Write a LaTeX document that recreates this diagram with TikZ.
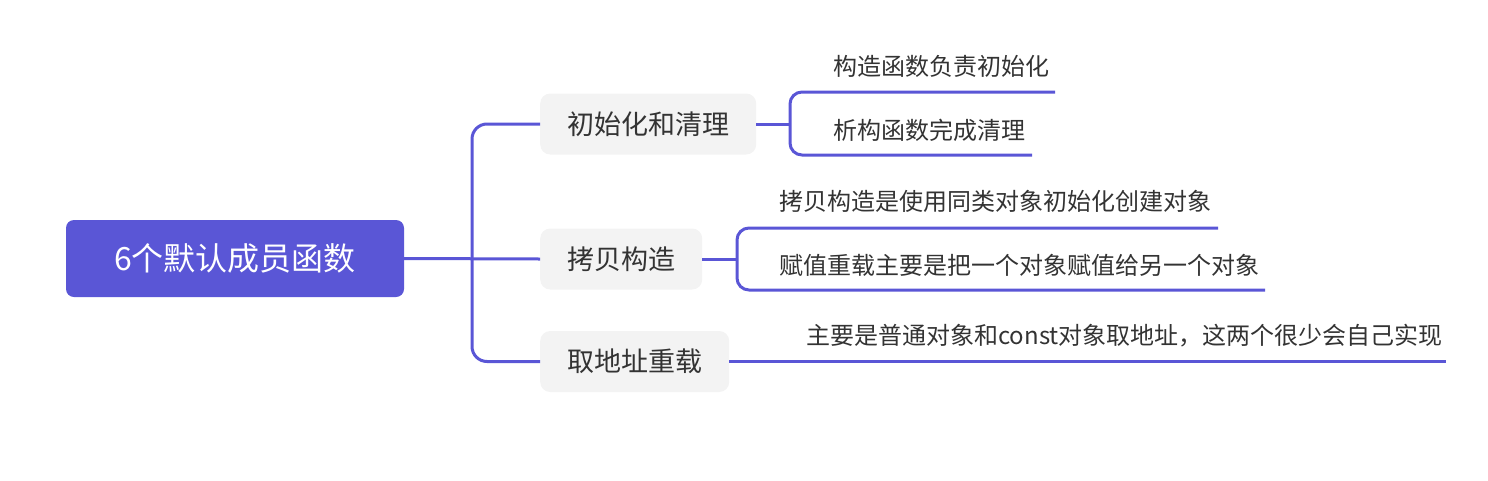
\documentclass[tikz,border=0pt]{standalone}
\usepackage{fontspec}
\setmainfont{Noto Sans CJK SC}
\usetikzlibrary{positioning}
\definecolor{mainblue}{HTML}{5A56D6}
\definecolor{boxgray}{HTML}{F3F3F3}
\definecolor{txt}{HTML}{333333}
\tikzset{root/.style = {fill=mainblue, text=white, rounded corners=8pt,
                        minimum width=338pt, minimum height=77pt,
                        font=\fontsize{32}{38}\selectfont},
         branch/.style = {fill=boxgray, text=txt, rounded corners=10pt,
                          inner xsep=27pt, minimum height=61pt, anchor=west,
                          font=\fontsize{27}{32}\selectfont},
         leaf/.style = {text=txt, inner sep=0pt, anchor=west,
                        font=\fontsize{24}{28}\selectfont},
         link/.style = {draw=mainblue, line width=3pt}}

\begin{document}
\begin{tikzpicture}[x=1pt, y=-1pt]
    \useasboundingbox (0, 0) rectangle (1488, 480);
    \node [root] (root) at (235, 258.5) {6个默认成员函数};
    \node [branch] (init) at (540, 124) {初始化和清理};
    \node [branch] (copy) at (540, 259) {拷贝构造};
    \node [branch] (addr) at (540, 361.5) {取地址重载};

    \node [leaf] (ctor) at (833, 66) {构造函数负责初始化};
    \node [leaf] (dtor) at (833, 130) {析构函数完成清理};
    \node [leaf] (cctor) at (779, 201) {拷贝构造是使用同类对象初始化创建对象};
    \node [leaf] (assign) at (779, 265) {赋值重载主要是把一个对象赋值给另一个对象};
    \node [leaf] (addrop) at (806, 336) {主要是普通对象和const对象取地址，这两个很少会自己实现};

    \coordinate (ctorend) at (1055, 92);
    \coordinate (dtorend) at (1032, 155);
    \coordinate (cctorend) at (1218, 228);
    \coordinate (assignend) at (1265, 290);
    \coordinate (addrend) at (1446, 361.5);

    \draw [link] (root.east) -- (copy.west);
    \draw [link, rounded corners=15pt] (init.west) -| (472, 259) |- (addr.west);

    \draw [link] (init.east) -- (790, 124);
    \draw [link, rounded corners=12pt] (ctorend) -| (790, 124) |- (dtorend);
    \draw [link] (copy.east) -- (737, 259);
    \draw [link, rounded corners=12pt] (cctorend) -| (737, 259) |- (assignend);
    \draw [link] (addr.east) -- (addrend);
\end{tikzpicture}
\end{document}
